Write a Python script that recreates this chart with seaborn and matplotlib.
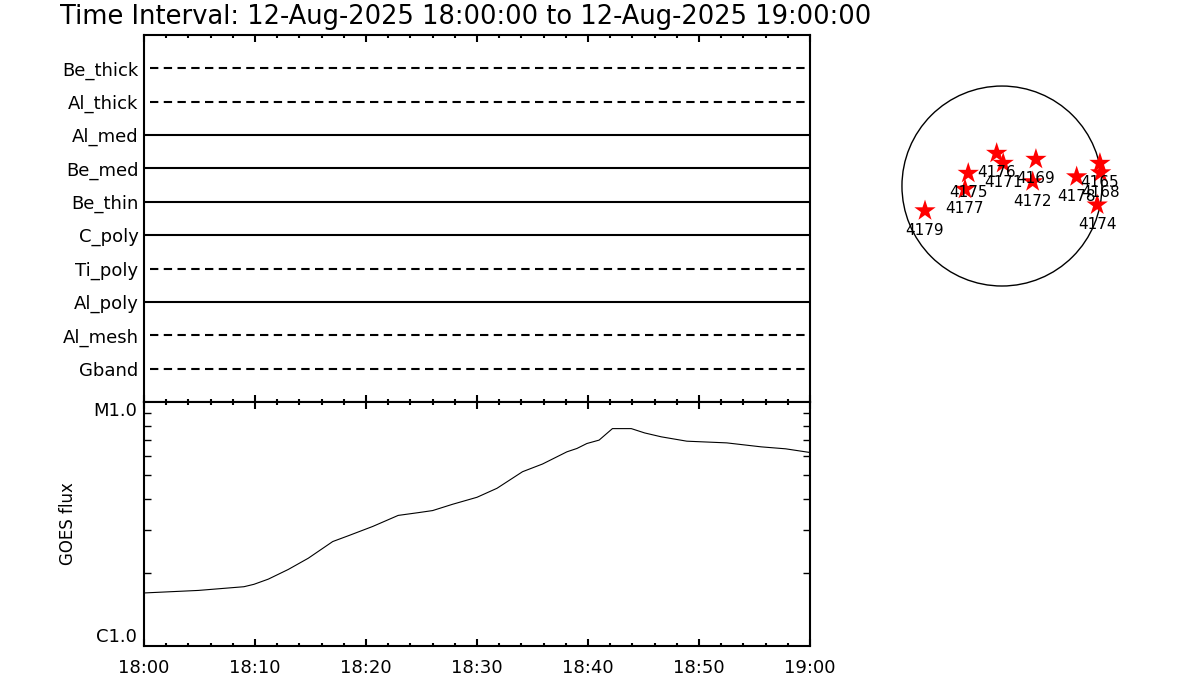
import numpy as np
import pandas as pd
import matplotlib
matplotlib.use("Agg")
import matplotlib.pyplot as plt
import matplotlib.ticker as mtick
import seaborn as sns

###############################################################################
# 1. DATA
###############################################################################
# filter channels, top to bottom; solid = data available, dashed = none
filters = ["Be_thick", "Al_thick", "Al_med", "Be_med", "Be_thin",
           "C_poly", "Ti_poly", "Al_poly", "Al_mesh", "Gband"]
available = [False, False, True, True, True, True, False, True, False, False]

# GOES flux (W/m^2), minutes after 18:00
goes_min = [0, 4.9, 9.0, 9.9, 11.2, 13.0, 14.8, 17.0, 18.4, 20.6, 22.9, 24.7,
            26.0, 27.8, 30.0, 31.8, 34.1, 35.9, 38.1, 39.0, 39.9, 41.0, 42.2,
            43.9, 45.1, 46.6, 48.9, 52.5, 55.6, 57.8, 60.0]
goes_flux = [1.65e-6, 1.69e-6, 1.75e-6, 1.79e-6, 1.88e-6, 2.06e-6, 2.29e-6,
             2.68e-6, 2.83e-6, 3.09e-6, 3.43e-6, 3.52e-6, 3.59e-6, 3.81e-6,
             4.07e-6, 4.43e-6, 5.18e-6, 5.57e-6, 6.25e-6, 6.45e-6, 6.76e-6,
             6.98e-6, 7.78e-6, 7.78e-6, 7.47e-6, 7.20e-6, 6.91e-6, 6.80e-6,
             6.55e-6, 6.43e-6, 6.21e-6]

time_labels = ["18:00", "18:10", "18:20", "18:30", "18:40", "18:50", "19:00"]

# active regions on the disk (arcsec)
ar_num = ["4165", "4168", "4169", "4171", "4172", "4174",
          "4175", "4176", "4177", "4178", "4179"]
ar_x = [931, 938, 323, 12, 292, 905, -320, -50, -351, 710, -731]
ar_y = [216, 126, 254, 216, 41, -180, 121, 311, -31, 88, -235]
sun_radius = 950

###############################################################################
# 2. STYLE
###############################################################################
sns.set_style("white")
plt.rcParams["font.family"] = ["DejaVu Sans"]
plt.rcParams["axes.linewidth"] = 1.5
plt.rcParams["text.color"] = "black"
plt.rcParams["xtick.color"] = "black"
plt.rcParams["ytick.color"] = "black"
plt.rcParams["axes.labelcolor"] = "black"

fig = plt.figure(figsize=(12, 7), dpi=100)
fig.patch.set_facecolor("white")

###############################################################################
# 3. TOP PANEL: FILTER CHANNELS
###############################################################################
ax_top = fig.add_axes([0.12, 0.4257, 0.555, 0.5243])
ypos = np.arange(len(filters), 0, -1)
for y, name, ok in zip(ypos, filters, available):
    if ok:
        ax_top.hlines(y, 0, 60, color="black", lw=1.5)
    else:
        ax_top.hlines(y, 0.5, 60, color="black", lw=1.5, linestyles=(0, (4, 2.6)))
ax_top.set_xlim(0, 60)
ax_top.set_ylim(0, len(filters) + 1)
ax_top.set_yticks(ypos)
ax_top.set_yticklabels(filters, fontsize=13)
ax_top.tick_params(axis="y", length=0, pad=4)
ax_top.xaxis.set_major_locator(mtick.MultipleLocator(10))
ax_top.xaxis.set_minor_locator(mtick.MultipleLocator(2))
ax_top.tick_params(axis="x", which="major", direction="in", top=True, bottom=True,
                   labelbottom=False, length=5, width=1.5)
ax_top.tick_params(axis="x", which="minor", direction="in", top=True, bottom=True,
                   length=2, width=1.5)
for s in ax_top.spines.values():
    s.set_visible(True)
    s.set_color("black")

###############################################################################
# 4. BOTTOM PANEL: GOES FLUX
###############################################################################
ax_bot = fig.add_axes([0.12, 0.0771, 0.555, 0.3486])
df_goes = pd.DataFrame({"minute": goes_min, "flux": goes_flux})
sns.lineplot(data=df_goes, x="minute", y="flux", ax=ax_bot, color="black", lw=0.8)
ax_bot.set_yscale("log")
ax_bot.set_ylim(1e-6, 1e-5)
ax_bot.set_xlim(0, 60)
ax_bot.set_yticks([1e-6, 1e-5])
ax_bot.set_yticklabels(["C1.0", "M1.0"], fontsize=13)
ylabs = ax_bot.get_yticklabels()
ylabs[0].set_verticalalignment("bottom")
ylabs[1].set_verticalalignment("top")
ax_bot.yaxis.set_minor_locator(mtick.LogLocator(base=10, subs=np.arange(2, 10)))
ax_bot.yaxis.set_minor_formatter(mtick.NullFormatter())
ax_bot.tick_params(axis="y", which="major", length=0, pad=5)
ax_bot.tick_params(axis="y", which="minor", direction="in", left=True, right=True,
                   length=5, width=1)
ax_bot.xaxis.set_major_locator(mtick.MultipleLocator(10))
ax_bot.xaxis.set_minor_locator(mtick.MultipleLocator(2))
ax_bot.set_xticks(np.arange(0, 61, 10))
ax_bot.set_xticklabels(time_labels, fontsize=13)
ax_bot.tick_params(axis="x", which="major", direction="in", top=True, bottom=True,
                   length=5, width=1.5, pad=9)
ax_bot.tick_params(axis="x", which="minor", direction="in", top=True, bottom=True,
                   length=2, width=1.5)
ax_bot.set_xlabel("")
ax_bot.set_ylabel("GOES flux", fontsize=12, labelpad=12)
for s in ax_bot.spines.values():
    s.set_visible(True)
    s.set_color("black")

###############################################################################
# 5. SOLAR DISK WITH ACTIVE REGIONS
###############################################################################
ax_sun = fig.add_axes([0.7433, 0.5771, 0.1833, 0.3143])
lim = sun_radius * 1.1
ax_sun.set_xlim(-lim, lim)
ax_sun.set_ylim(-lim, lim)
ax_sun.set_aspect("equal")
ax_sun.add_patch(plt.Circle((0, 0), sun_radius, fill=False, color="black", lw=1))
sns.scatterplot(x=ar_x, y=ar_y, ax=ax_sun, marker="*", s=260, color="red",
                edgecolor="none", legend=False, zorder=3)
for num, x, y in zip(ar_num, ar_x, ar_y):
    ax_sun.annotate(num, (x, y), xytext=(0, -14), textcoords="offset points",
                    ha="center", va="center", fontsize=11, zorder=4)
ax_sun.axis("off")

###############################################################################
# 6. TITLE
###############################################################################
fig.text(0.05, 0.975, "Time Interval: 12-Aug-2025 18:00:00 to 12-Aug-2025 19:00:00",
         fontsize=18.5, ha="left", va="center")

fig.savefig("out.png", dpi=100)
